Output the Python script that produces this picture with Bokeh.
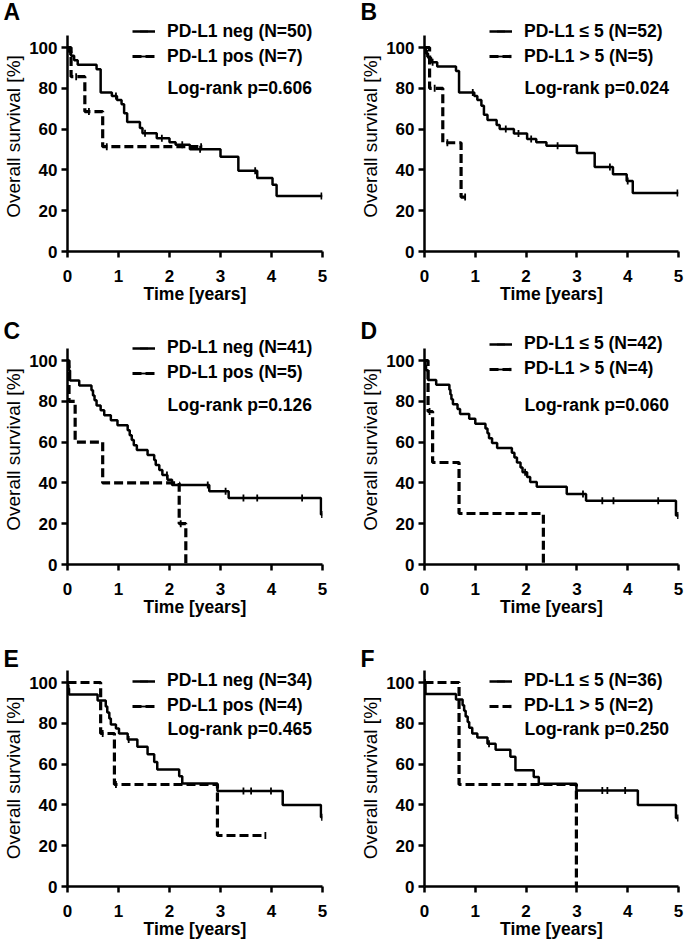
import numpy as np
from bokeh.plotting import figure
from bokeh.layouts import column, row
from bokeh.models import Range1d, FixedTicker, Legend, LegendItem, Label
from bokeh.embed import file_html
from bokeh.resources import INLINE

# ---------------- data ----------------
# Panel A
A_neg_t = [0, 0.02, 0.07, 0.13, 0.2, 0.57, 0.65, 0.87, 0.97, 1.06, 1.11, 1.17, 1.42, 1.47, 1.75, 2.0, 2.12, 2.4, 3.0, 3.35, 3.72, 4.02, 4.1, 5.0]
A_neg_s = [100, 98, 96, 93.8, 91.5, 89.3, 78, 76.2, 74.3, 72.2, 67.8, 63.5, 60.5, 58, 55.5, 53.5, 52.3, 50.1, 46.5, 39.6, 36, 32.7, 27.2, 27.2]
A_neg_c = [0.05, 0.95, 1.52, 1.85, 2.25, 2.6, 3.68, 4.98]
A_pos_t = [0, 0.07, 0.34, 0.69, 2.65]
A_pos_s = [100, 85.7, 68.6, 51.4, 51.4]
A_pos_c = [0.17, 0.42, 0.77, 2.62]
# Panel B
B_le_t = [0, 0.03, 0.07, 0.13, 0.25, 0.62, 0.68, 0.98, 1.04, 1.12, 1.17, 1.24, 1.42, 1.48, 1.76, 2.02, 2.2, 2.4, 3.0, 3.35, 3.71, 3.98, 4.1, 5.0]
B_le_s = [100, 97.1, 95, 92.8, 90.7, 88.5, 78, 76.2, 74.3, 71.5, 67, 64.5, 62, 60, 57.8, 55.2, 53.5, 51.8, 48.3, 41.4, 37.9, 34.5, 28.7, 28.7]
B_le_c = [0.05, 0.16, 0.95, 1.6, 1.85, 2.1, 2.62, 3.65, 4.0, 4.98]
B_gt_t = [0, 0.1, 0.36, 0.72, 0.8]
B_gt_s = [100, 80, 53.3, 26.7, 26.7]
B_gt_c = [0.2, 0.45, 0.8]
# Panel C
C_neg_t = [0, 0.01, 0.03, 0.05, 0.23, 0.47, 0.5, 0.53, 0.57, 0.65, 0.72, 0.85, 0.98, 1.18, 1.22, 1.26, 1.3, 1.36, 1.57, 1.7, 1.73, 1.8, 1.86, 1.96, 2.05, 2.78, 3.16, 4.97, 5.0]
C_neg_s = [100, 97.6, 95.1, 90.2, 87.8, 85.4, 82.9, 80.5, 78, 75.6, 73.2, 70.7, 68.3, 65.8, 63.4, 61, 58.5, 56.1, 53.7, 51.2, 48.8, 46.3, 43.9, 41.5, 39, 35.9, 32.6, 24.5, 24.5]
C_neg_c = [0.02, 1.95, 2.75, 3.1, 3.45, 3.72, 4.6, 4.99]
C_pos_t = [0, 0.03, 0.15, 0.69, 2.19, 2.32]
C_pos_s = [100, 80, 60, 40, 20, 0]
C_pos_c = [2.22]
# Panel D
D_le_t = [0, 0.01, 0.03, 0.07, 0.23, 0.49, 0.51, 0.53, 0.56, 0.65, 0.7, 0.88, 1.0, 1.2, 1.24, 1.27, 1.33, 1.43, 1.72, 1.77, 1.82, 1.89, 1.93, 2.02, 2.08, 2.21, 2.8, 3.18, 4.95, 5.0]
D_le_s = [100, 97.6, 95.2, 90.5, 88.1, 85.7, 83.3, 81, 78.6, 76.2, 73.8, 71.4, 69, 66.7, 64.3, 61.9, 59.5, 57.1, 54.8, 52.4, 50, 47.6, 45.2, 42.9, 40.5, 38.1, 34.6, 31.2, 24, 24]
D_le_c = [0.02, 1.98, 3.12, 3.5, 3.72, 4.6, 4.99]
D_gt_t = [0, 0.07, 0.16, 0.68, 2.34]
D_gt_s = [100, 75, 50, 25, 0]
D_gt_c = [0.1]
# Panel E
E_neg_t = [0, 0.01, 0.03, 0.59, 0.75, 0.78, 0.82, 0.85, 0.95, 1.01, 1.18, 1.37, 1.57, 1.7, 1.76, 2.19, 2.25, 2.94, 4.22, 4.97, 5.0]
E_neg_s = [100, 97.1, 94.1, 91.2, 88.2, 85.3, 82.4, 79.4, 77.5, 75, 72, 68.5, 64.8, 61, 57.4, 54, 50.5, 46.8, 40, 34, 34]
E_neg_c = [0.02, 1.2, 3.45, 3.6, 3.99, 4.99]
E_pos_t = [0, 0.65, 0.92, 2.94, 3.89]
E_pos_s = [100, 75, 50, 25, 25]
E_pos_c = [0.69, 0.95, 3.88]
# Panel F
F_le_t = [0, 0.02, 0.62, 0.75, 0.78, 0.81, 0.85, 0.88, 0.94, 1.04, 1.24, 1.4, 1.69, 1.79, 2.15, 2.25, 2.99, 4.2, 4.95, 5.0]
F_le_s = [100, 94.4, 91.7, 88.9, 86.1, 83.3, 80.6, 77.8, 75, 73, 70, 67, 63.6, 57, 53.7, 50.4, 47, 40, 33.6, 33.6]
F_le_c = [0.01, 1.27, 3.5, 3.6, 3.95, 4.99]
F_gt_t = [0, 0.68, 2.99]
F_gt_s = [100, 50, 0]
F_gt_c = []

letters = ["A", "B", "C", "D", "E", "F"]
solid_labels = ["PD-L1 neg (N=50)", "PD-L1 \u2264 5 (N=52)", "PD-L1 neg (N=41)",
                "PD-L1 \u2264 5 (N=42)", "PD-L1 neg (N=34)", "PD-L1 \u2264 5 (N=36)"]
dash_labels = ["PD-L1 pos (N=7)", "PD-L1 > 5 (N=5)", "PD-L1 pos (N=5)",
               "PD-L1 > 5 (N=4)", "PD-L1 pos (N=4)", "PD-L1 > 5 (N=2)"]
p_values = ["0.606", "0.024", "0.126", "0.060", "0.465", "0.250"]
x_ticks = [0, 1, 2, 3, 4, 5]
y_ticks = [0, 20, 40, 60, 80, 100]

solid = [(A_neg_t, A_neg_s, A_neg_c), (B_le_t, B_le_s, B_le_c), (C_neg_t, C_neg_s, C_neg_c),
         (D_le_t, D_le_s, D_le_c), (E_neg_t, E_neg_s, E_neg_c), (F_le_t, F_le_s, F_le_c)]
dashed = [(A_pos_t, A_pos_s, A_pos_c), (B_gt_t, B_gt_s, B_gt_c), (C_pos_t, C_pos_s, C_pos_c),
          (D_gt_t, D_gt_s, D_gt_c), (E_pos_t, E_pos_s, E_pos_c), (F_gt_t, F_gt_s, F_gt_c)]

# ---------------- layout / style ----------------
FONT = "Liberation Sans"
PX = 2.04                 # pixels per percent
FWS = [255, 254]          # frame widths per column
BL = 67
BB = 56
COL_BR = [35, 6]          # right borders
ROW_BT = [21, 27, 49]     # top borders
ROW_OFF = [26, 26, 13]    # px from frame top to the 100 % line
ROW_TS = [-7, -18, -5]    # title (panel letter) standoff
LEG_R1 = [14.4, 14.4, 11, 15, 0, 0]      # legend first row, px above 100 %
LR_OFF = [40.6, 40.6, 44, 44, 46.7, 46.7]  # log-rank line, px below 100 %


def surv_at(t, s, times):
    t = np.asarray(t)
    s = np.asarray(s)
    idx = np.searchsorted(t, np.asarray(times, dtype=float), side="right") - 1
    idx = np.clip(idx, 0, len(s) - 1)
    return s[idx]


def make_panel(i):
    r, c = divmod(i, 2)
    off = ROW_OFF[r]
    frame_h = off + int(round(100 * PX))
    y_end = 100 + off / PX
    FW = FWS[c]
    W = BL + FW + COL_BR[c]
    H = ROW_BT[r] + frame_h + BB
    p = figure(width=W, height=H, x_range=Range1d(0, 5), y_range=Range1d(0, y_end),
               output_backend="svg", toolbar_location=None,
               min_border_left=BL, min_border_right=COL_BR[c],
               min_border_top=ROW_BT[r], min_border_bottom=BB)
    p.outline_line_color = None
    p.xgrid.visible = False
    p.ygrid.visible = False
    p.background_fill_color = "white"

    # panel letter as the figure title
    p.title.text = letters[i]
    p.title.align = "left"
    p.title.offset = -(BL - 3)
    p.title.standoff = ROW_TS[r]
    p.title.text_font = FONT
    p.title.text_font_style = "bold"
    p.title.text_font_size = "23px"
    p.title.text_color = "black"

    st, ss, sc = solid[i]
    dt, ds, dc = dashed[i]
    r1 = p.step(st, ss, mode="after", line_color="black", line_width=2.5)
    r1c = p.scatter(sc, surv_at(st, ss, sc), marker="dash", angle=np.pi / 2, size=7,
                    line_color="black", line_width=1.8)
    r2 = p.step(dt, ds, mode="after", line_color="black", line_width=3.2, line_dash="9 4")
    r2c = p.scatter(dc, surv_at(dt, ds, dc) if len(dc) else [], marker="dash",
                    angle=np.pi / 2, size=7, line_color="black", line_width=1.8)

    # axes
    for ax in (p.xaxis[0], p.yaxis[0]):
        ax.axis_line_width = 2.5
        ax.major_tick_line_width = 2.5
        ax.major_tick_out = 6
        ax.major_tick_in = 0
        ax.minor_tick_out = 0
        ax.minor_tick_in = 0
        ax.major_label_text_font = FONT
        ax.major_label_text_font_style = "bold"
        ax.major_label_text_font_size = "17px"
        ax.major_label_text_color = "black"
        ax.axis_label_text_font = FONT
        ax.axis_label_text_color = "black"
    p.xaxis.ticker = FixedTicker(ticks=x_ticks)
    p.yaxis.ticker = FixedTicker(ticks=y_ticks)
    p.xaxis.bounds = (0, 5)
    p.yaxis.bounds = (0, 106)
    p.xaxis.axis_label = "Time [years]"
    p.xaxis.axis_label_text_font_style = "bold"
    p.xaxis.axis_label_text_font_size = "17.5px"
    p.xaxis.major_label_standoff = 12
    p.xaxis.axis_label_standoff = -1
    p.yaxis.axis_label = "Overall survival [%]"
    p.yaxis.axis_label_text_font_style = "normal"
    p.yaxis.axis_label_text_font_size = "19px"
    p.yaxis.major_label_standoff = 4
    p.yaxis.axis_label_standoff = 2

    # legend
    row1_from_top = off - LEG_R1[i]
    vy = frame_h - (row1_from_top + 34)
    leg = Legend(items=[LegendItem(label=solid_labels[i], renderers=[r1, r1c]),
                        LegendItem(label=dash_labels[i], renderers=[r2, r2c])],
                 location=(65, vy), padding=0, margin=0, spacing=4,
                 glyph_width=23, glyph_height=20, label_height=20, label_standoff=12,
                 background_fill_alpha=0, border_line_alpha=0,
                 label_text_font=FONT, label_text_font_style="bold",
                 label_text_font_size="17.5px", label_text_color="black")
    p.add_layout(leg, "center")

    p.add_layout(Label(x=100 / (FW / 5.0), y=100 - LR_OFF[i] / PX, text="Log-rank p=" + p_values[i],
                       text_font=FONT, text_font_style="bold", text_font_size="17.5px",
                       text_baseline="middle", text_align="left", text_color="black"))
    return p


panels = [make_panel(i) for i in range(6)]
layout = column(row(panels[0], panels[1]), row(panels[2], panels[3]), row(panels[4], panels[5]))
open("out.html", "w").write(file_html(layout, INLINE))
